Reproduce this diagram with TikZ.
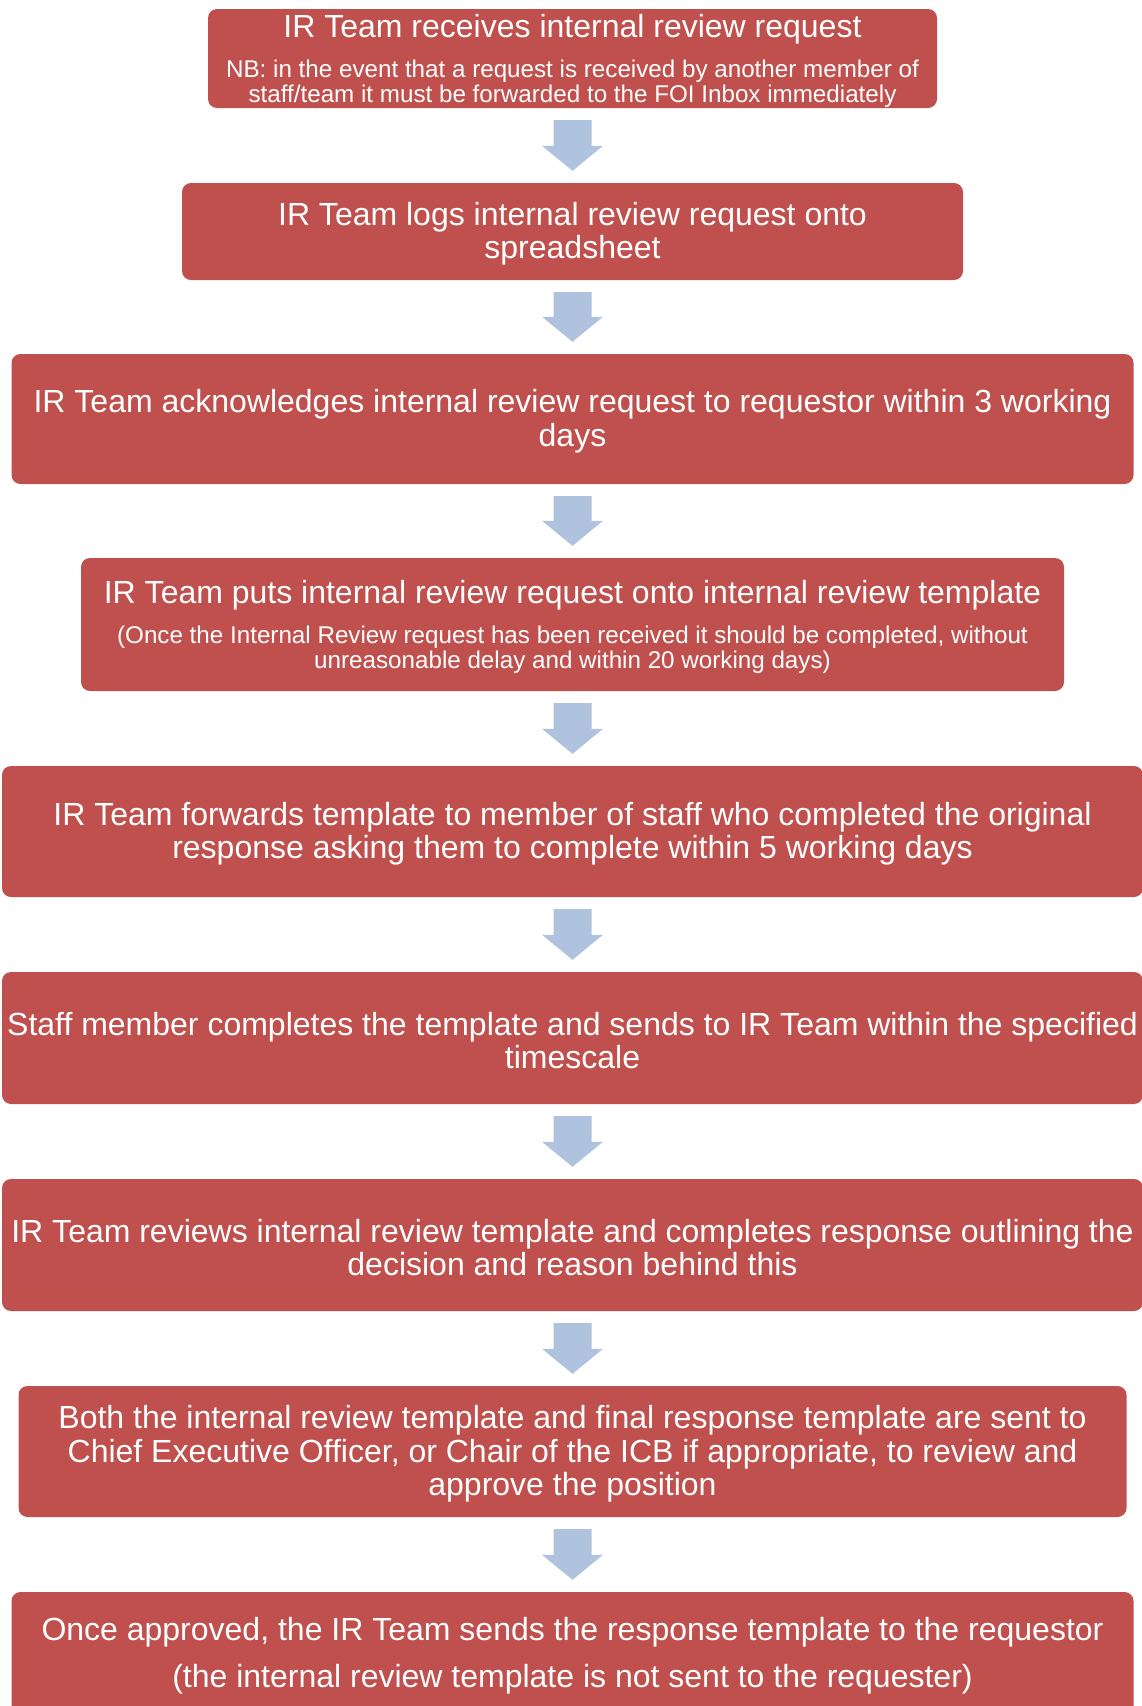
\documentclass[tikz,border=0pt]{standalone}
\usepackage{fontspec}
\setmainfont{Liberation Sans}
\usetikzlibrary{calc}
\definecolor{boxred}{HTML}{C0504D}
\definecolor{arrowblue}{RGB}{176,195,222}
\newcommand\mainfs{\fontsize{32}{33.5}\selectfont}
\newcommand\notefs{\fontsize{24.2}{25}\selectfont}
\tikzset{
  stepbox/.style={fill=boxred, rounded corners=9pt, text=white, align=flush center,
    inner sep=0pt, font=\mainfs, execute at end node={\par\vspace{-4.6pt}}},
  arrowfill/.style={fill=arrowblue},
}
% block arrow from the bottom of one step to the top of the next
\newcommand\flowarrow[2]{%
  \fill[arrowfill] ($(#1.south)+(-19,12)$) -- ($(#1.south)+(19,12)$)
    -- ($(#2.north)+(19,-37)$) -- ($(#2.north)+(30.5,-37)$)
    -- ($(#2.north)+(0,-12)$) -- ($(#2.north)+(-30.5,-37)$)
    -- ($(#2.north)+(-19,-37)$) -- cycle;}
\begin{document}
\begin{tikzpicture}[x=1pt,y=-1pt]
\useasboundingbox (0,0) rectangle (1142,1706);
\clip (0,0) rectangle (1142,1706);

\node[stepbox, minimum width=729, minimum height=99, text width=725] (s1) at (572.5,58.5)
  {IR Team receives internal review request\par\vspace{15.5pt}
   {\notefs NB: in the event that a request is received by another member of\\
   staff/team it must be forwarded to the FOI Inbox immediately\par}};

\node[stepbox, minimum width=781, minimum height=97, text width=775] (s2) at (572.5,231.5)
  {IR Team logs internal review request onto\\ spreadsheet};

\node[stepbox, minimum width=1122, minimum height=130, text width=1118] (s3) at (572.5,419)
  {IR Team acknowledges internal review request to requestor within 3 working\\ days};

\node[stepbox, minimum width=983, minimum height=133, text width=979] (s4) at (572.5,624.5)
  {IR Team puts internal review request onto internal review template\par\vspace{15pt}
   {\notefs (Once the Internal Review request has been received it should be completed, without\\
   unreasonable delay and within 20 working days)\par}};

\node[stepbox, minimum width=1141, minimum height=131, text width=1141] (s5) at (572.5,831.5)
  {IR Team forwards template to member of staff who completed the original\\
   response asking them to complete within 5 working days};

\node[stepbox, minimum width=1141, minimum height=132, text width=1141] (s6) at (572.5,1038)
  {Staff member completes the template and sends to IR Team within the specified\\
   timescale};

\node[stepbox, minimum width=1141, minimum height=132, text width=1141] (s7) at (572.5,1245)
  {IR Team reviews internal review template and completes response outlining the\\
   decision and reason behind this};

\node[stepbox, minimum width=1108, minimum height=131, text width=1104] (s8) at (572.5,1451.5)
  {Both the internal review template and final response template are sent to\\
   Chief Executive Officer, or Chair of the ICB if appropriate, to review and\\
   approve the position};

\node[stepbox, minimum width=1122, minimum height=130, text width=1118] (s9) at (572.5,1657)
  {Once approved, the IR Team sends the response template to the requestor\\[13.5pt]
   (the internal review template is not sent to the requester)\par\vspace{8pt}};

\flowarrow{s1}{s2}
\flowarrow{s2}{s3}
\flowarrow{s3}{s4}
\flowarrow{s4}{s5}
\flowarrow{s5}{s6}
\flowarrow{s6}{s7}
\flowarrow{s7}{s8}
\flowarrow{s8}{s9}
\end{tikzpicture}
\end{document}
